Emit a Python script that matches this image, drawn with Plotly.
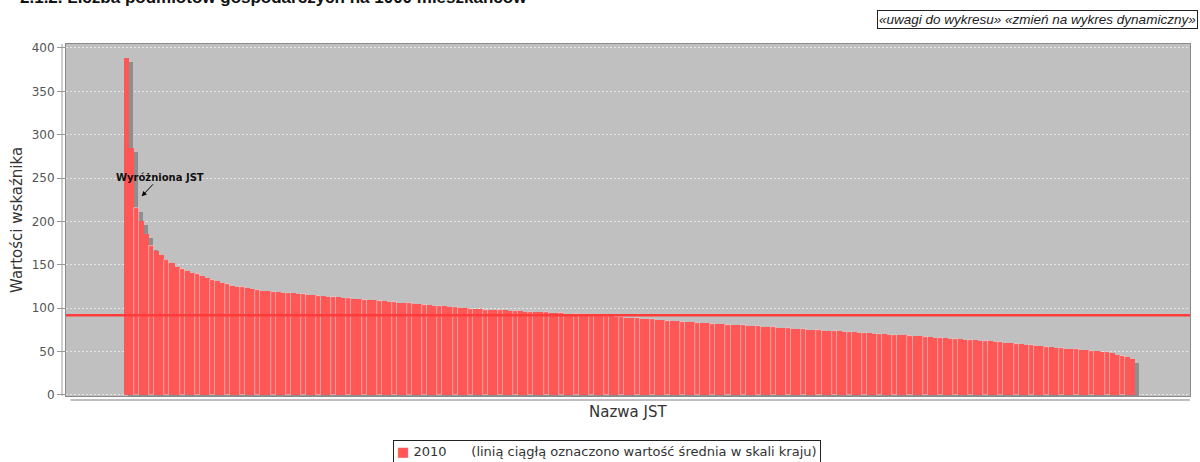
import plotly.graph_objects as go

# Liczba podmiotów gospodarczych na 1000 mieszkańców, sorted descending (2010)
values_2010 = [
    388, 285, 215, 200, 185, 172, 166, 161, 156, 152,
    148, 145, 143, 141, 139, 137, 135, 133, 131, 129,
    128, 126, 125, 124, 123, 122, 121, 120, 119.5, 119,
    118.5, 118, 117.5, 117, 116.5, 116, 115.5, 115, 114.5, 114,
    113.5, 113, 112.5, 112, 111.5, 111, 110.5, 110, 109.5, 109,
    108.5, 108, 107.5, 107, 106.5, 106, 105.5, 105, 104.5, 104,
    103.5, 103, 102.5, 102, 101.5, 101, 100.5, 100, 99.5, 99,
    98.8, 98.5, 98.2, 98, 97.7, 97.4, 97.1, 96.8, 96.5, 96.2,
    96, 95.7, 95.4, 95.1, 94.8, 94.5, 94.2, 93.9, 93.6, 93.3,
    93, 92.6, 92.2, 91.8, 91.4, 91, 90.5, 90, 89.5, 89,
    88.6, 88.2, 87.8, 87.4, 87.0, 86.6, 86.2, 85.8, 85.4, 85.0,
    84.6, 84.2, 83.8, 83.4, 83.0, 82.6, 82.3, 81.9, 81.5, 81.2,
    80.8, 80.4, 80.1, 79.7, 79.3, 79.0, 78.6, 78.2, 77.9, 77.5,
    77.1, 76.8, 76.4, 76.0, 75.7, 75.3, 75.0, 74.6, 74.3, 73.9,
    73.6, 73.2, 72.9, 72.5, 72.2, 71.8, 71.5, 71.1, 70.8, 70.4,
    70.1, 69.7, 69.4, 69.0, 68.6, 68.2, 67.8, 67.4, 67.0, 66.6,
    66.2, 65.8, 65.4, 65.0, 64.6, 64.2, 63.8, 63.4, 63.0, 62.6,
    62.2, 61.8, 61.4, 61.0, 60.4, 59.8, 59.2, 58.6, 58.0, 57.4,
    56.8, 56.2, 55.6, 55.0, 54.5, 54.0, 53.5, 53.0, 52.5, 52.0,
    51.5, 51.0, 50.5, 50.0, 49.0, 48.0, 46.5, 45.0, 43.5, 41.0,
]
jst = list(range(len(values_2010)))
highlighted = 3          # "Wyróżniona JST"
national_mean = 92
y_ticks = [0, 50, 100, 150, 200, 250, 300, 350, 400]

TITLE = "2.1.2. Liczba podmiotów gospodarczych na 1000 mieszkańców"
SERIES = "2010"
NOTE = "(linią ciągłą oznaczono wartość średnia w skali kraju)"
RED = "#ff5656"

fig = go.Figure()

# bar shadow (JFreeChart style), a few px right/down
fig.add_trace(go.Bar(
    x=[i + 0.79 for i in jst], y=values_2010, base=-4.6, width=1,
    marker=dict(color="#8e8e8e", line=dict(width=0)),
    showlegend=False, hoverinfo="skip"))

# thin light seams every few bars, like the antialiased original
seam_w = [0.6 if i % 3 == 2 else 0 for i in jst]
fig.add_trace(go.Bar(
    x=jst, y=values_2010, width=1, name=SERIES, showlegend=False,
    marker=dict(color=RED, line=dict(width=seam_w, color="#f6dada"))))

fig.add_hline(y=national_mean, line=dict(color="#ff3b3b", width=2.5))

fig.add_annotation(x=highlighted, y=229, text="<b>Wyróżniona JST</b>",
                   showarrow=True, ax=18, ay=-19, arrowhead=2, arrowsize=1,
                   arrowwidth=1, arrowcolor="#000",
                   font=dict(family="DejaVu Sans", size=10, color="#111"))

# title sits mostly above the page edge, as in the original screenshot
fig.add_annotation(xref="paper", yref="paper", x=-0.043, y=1.1,
                   xanchor="left", yanchor="bottom", showarrow=False,
                   text="<b>" + TITLE + "</b>",
                   font=dict(family="Liberation Sans", size=17, color="#111"))

fig.add_annotation(xref="paper", yref="paper", x=1.0071, y=1.071,
                   xanchor="right", yanchor="middle", showarrow=False,
                   text="«uwagi do wykresu» «zmień na wykres dynamiczny»",
                   bordercolor="#222", borderwidth=1, borderpad=1,
                   font=dict(family="Liberation Sans", size=13.5, color="#222",
                             style="italic"))

fig.add_annotation(xref="paper", yref="paper", x=0.5, y=0, yshift=-16,
                   xanchor="center", yanchor="middle", showarrow=False,
                   text="Nazwa JST",
                   font=dict(family="DejaVu Sans", size=15, color="#333"))

fig.add_annotation(xref="paper", yref="paper", x=-0.0436, y=0.5,
                   xanchor="center", yanchor="middle", showarrow=False,
                   textangle=-90, text="Wartości wskaźnika",
                   font=dict(family="DejaVu Sans", size=15, color="#333"))

# legend box
fig.add_annotation(xref="paper", yref="paper", x=(393 - 66) / 1124,
                   y=-44 / 352, xanchor="left", yanchor="top",
                   showarrow=False, align="left",
                   text=("<span style='color:" + RED + "'>■</span> " + SERIES
                         + "&nbsp;&nbsp;&nbsp;&nbsp;&nbsp; " + NOTE),
                   bordercolor="#222", borderwidth=1, borderpad=3,
                   bgcolor="white",
                   font=dict(family="DejaVu Sans", size=13, color="#333"))

# offset axis lines
fig.add_shape(type="line", xref="paper", yref="paper",
              x0=-4 / 1124, x1=-4 / 1124, y0=0, y1=1,
              line=dict(color="#999", width=1))
fig.add_shape(type="line", xref="paper", yref="paper",
              x0=0.004, x1=1, y0=-4 / 352, y1=-4 / 352,
              line=dict(color="#aaa", width=1.5))

fig.update_layout(
    width=1200, height=462,
    margin=dict(l=66, r=10, t=44, b=66, autoexpand=False),
    paper_bgcolor="white", plot_bgcolor="#c0c0c0",
    barmode="overlay", bargap=0,
    font=dict(family="DejaVu Sans", color="#444"),
    showlegend=False,
)
fig.update_xaxes(range=[-11.97, 210.4], showticklabels=False, ticks="",
                 showgrid=False, zeroline=False, showline=True, mirror=True,
                 linecolor="#8a8a8a", linewidth=1)
fig.update_yaxes(range=[-1.2, 404.6], tickvals=y_ticks, ticks="outside",
                 ticklen=8, tickcolor="#999",
                 tickfont=dict(family="DejaVu Sans", size=12, color="#555"),
                 showgrid=True, gridcolor="#e6e6e6", griddash="2px,2px",
                 zeroline=False, showline=True, mirror=True,
                 linecolor="#8a8a8a", linewidth=1)

# page has a default 8px body margin; drop it so the figure fills the window
fig.write_html("out.html", config={"displayModeBar": False},
               post_script="document.body.style.margin='0';")
